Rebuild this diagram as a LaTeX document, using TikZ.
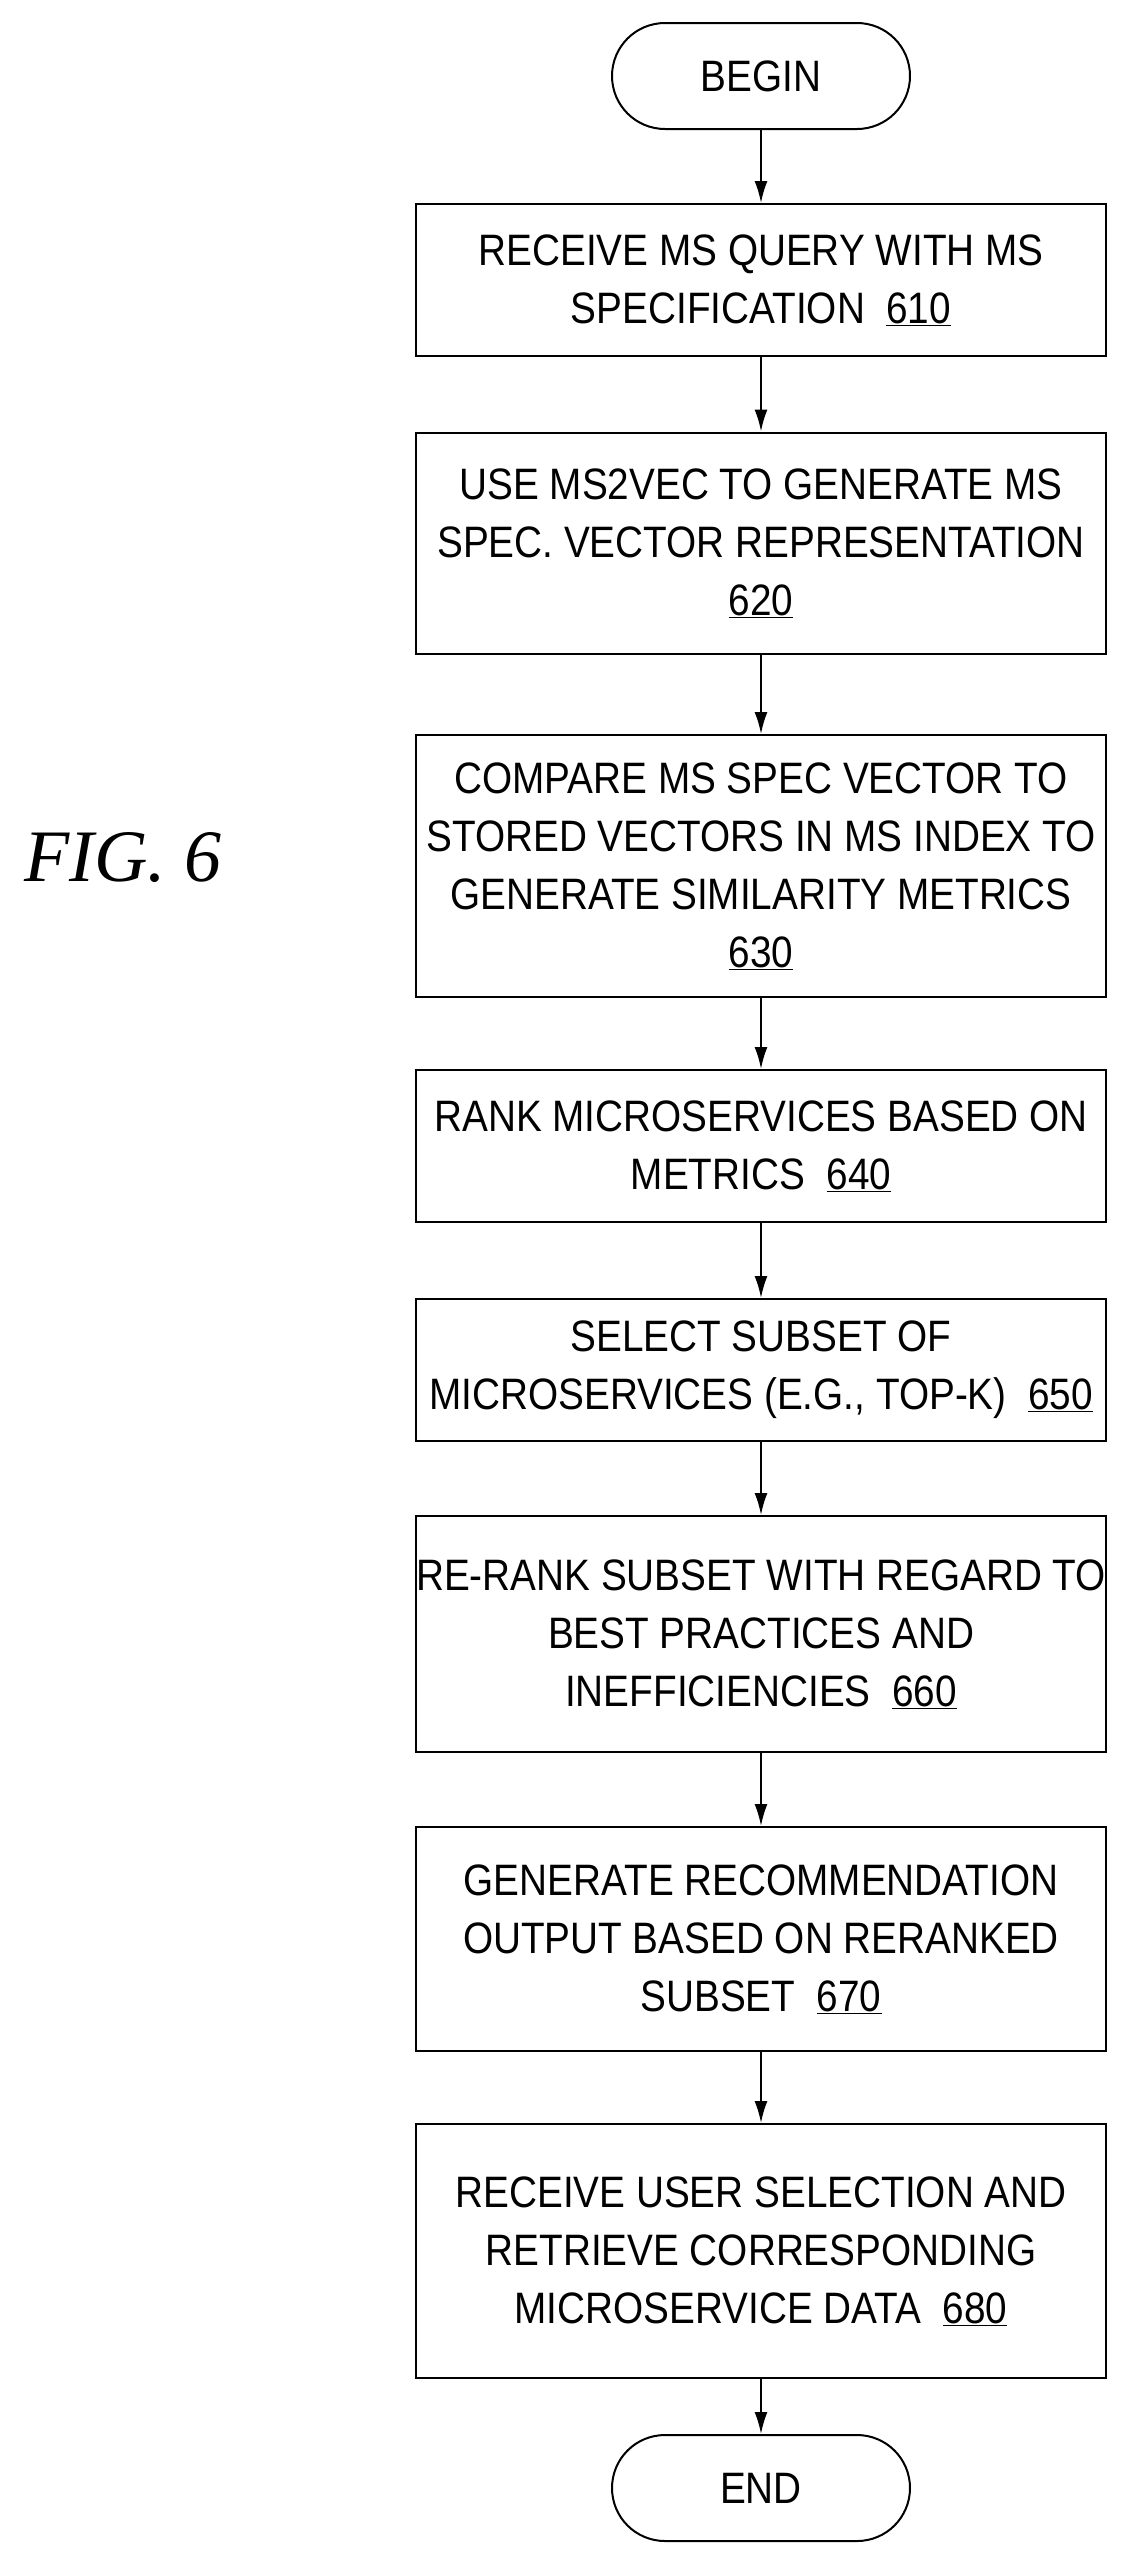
\documentclass[tikz,border=0pt]{standalone}
\usepackage{fontspec}
\setmainfont{Liberation Sans}[FakeStretch=0.88]
\newfontfamily\figfont{Liberation Serif}
\begin{document}
\begin{tikzpicture}[x=1pt,y=-1pt,
  box/.style={draw,line width=2pt,minimum width=690pt,align=center,font=\fontsize{44}{58}\selectfont,inner sep=0pt},
  term/.style={draw,line width=2pt,rounded corners=53pt,minimum width=298pt,minimum height=106pt,font=\fontsize{44}{58}\selectfont},
  arr/.style={line width=2pt,-{Latex[length=22pt,width=13pt]}}]
\usetikzlibrary{arrows.meta}
\useasboundingbox (0,0) rectangle (1139,2554);
\node[term] (b) at (761,76) {BEGIN};
\node[box,minimum height=152pt] (n1) at (761,280) {RECEIVE MS QUERY WITH MS\\SPECIFICATION\ \ \underline{610}};
\node[box,minimum height=221pt] (n2) at (761,543) {USE MS2VEC TO GENERATE MS\\SPEC. VECTOR REPRESENTATION\\\underline{620}};
\node[box,minimum height=262pt] (n3) at (761,866) {COMPARE MS SPEC VECTOR TO\\STORED VECTORS IN MS INDEX TO\\GENERATE SIMILARITY METRICS\\\underline{630}};
\node[box,minimum height=152pt] (n4) at (761,1146) {RANK MICROSERVICES BASED ON\\METRICS\ \ \underline{640}};
\node[box,minimum height=142pt] (n5) at (761,1370) {SELECT SUBSET OF\\MICROSERVICES (E.G., TOP-K)\ \ \underline{650}};
\node[box,minimum height=236pt] (n6) at (761,1634) {RE-RANK SUBSET WITH REGARD TO\\BEST PRACTICES AND\\INEFFICIENCIES\ \ \underline{660}};
\node[box,minimum height=224pt] (n7) at (761,1939) {GENERATE RECOMMENDATION\\OUTPUT BASED ON RERANKED\\SUBSET\ \ \underline{670}};
\node[box,minimum height=254pt] (n8) at (761,2251) {RECEIVE USER SELECTION AND\\RETRIEVE CORRESPONDING\\MICROSERVICE DATA\ \ \underline{680}};
\node[term] (e) at (761,2488) {END};
\node[font=\figfont\itshape\fontsize{74}{80}\selectfont] (fig) at (123,858) {FIG. 6};
\draw[arr] (b) -- (n1);
\draw[arr] (n1) -- (n2);
\draw[arr] (n2) -- (n3);
\draw[arr] (n3) -- (n4);
\draw[arr] (n4) -- (n5);
\draw[arr] (n5) -- (n6);
\draw[arr] (n6) -- (n7);
\draw[arr] (n7) -- (n8);
\draw[arr] (n8) -- (e);
\end{tikzpicture}
\end{document}
